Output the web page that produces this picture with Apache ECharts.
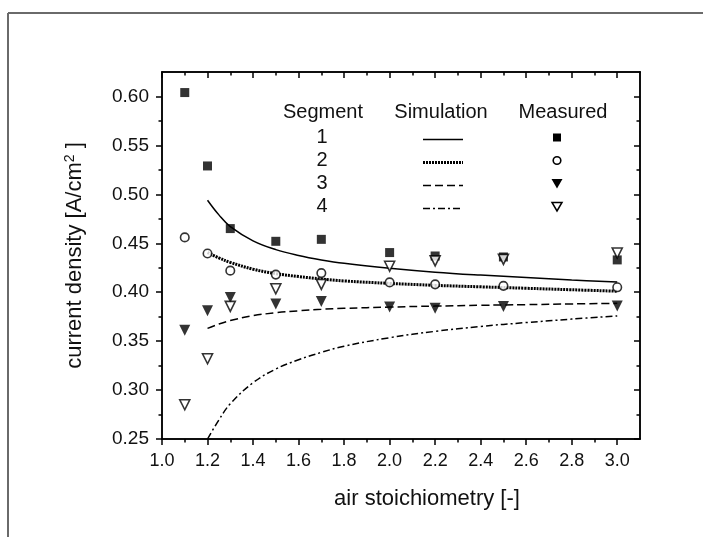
<!DOCTYPE html>
<html><head><meta charset="utf-8">
<script src="https://cdn.jsdelivr.net/npm/echarts@6/dist/echarts.min.js"></script>
<style>html,body{margin:0;padding:0;background:#fff}#c{width:703px;height:537px}</style>
</head><body><div id="c"></div>
<script>
// ---- data ----
const measX = [1.1, 1.2, 1.3, 1.5, 1.7, 2.0, 2.2, 2.5, 3.0];
const meas1 = [0.604, 0.529, 0.465, 0.452, 0.454, 0.4405, 0.437, 0.436, 0.433];
const meas2 = [0.456, 0.4395, 0.422, 0.418, 0.4195, 0.410, 0.408, 0.4065, 0.405];
const meas3 = [0.361, 0.381, 0.3945, 0.388, 0.3905, 0.385, 0.3835, 0.3855, 0.386];
const meas4 = [0.285, 0.332, 0.3855, 0.4035, 0.408, 0.4265, 0.432, 0.4335, 0.440];

const simX = [1.2, 1.25, 1.3, 1.4, 1.5, 1.6, 1.7, 1.8, 2.0, 2.2, 2.4, 2.6, 2.8, 3.0];
const sim1 = [0.494, 0.479, 0.467, 0.4525, 0.4435, 0.4375, 0.433, 0.4295, 0.4245, 0.4205, 0.4175, 0.415, 0.4125, 0.4105];
const sim2 = [0.4405, 0.435, 0.4305, 0.4235, 0.419, 0.416, 0.4135, 0.4115, 0.409, 0.407, 0.4055, 0.404, 0.4025, 0.401];
const sim3 = [0.363, 0.3675, 0.371, 0.376, 0.379, 0.381, 0.3825, 0.3835, 0.3848, 0.3858, 0.3866, 0.3873, 0.388, 0.3886];
const sim4 = [0.250, 0.2695, 0.286, 0.3075, 0.3215, 0.331, 0.3385, 0.3448, 0.3535, 0.360, 0.365, 0.369, 0.3725, 0.3758];

const xMajor = [1.0, 1.2, 1.4, 1.6, 1.8, 2.0, 2.2, 2.4, 2.6, 2.8, 3.0];
const xMinor = [1.1, 1.3, 1.5, 1.7, 1.9, 2.1, 2.3, 2.5, 2.7, 2.9];
const yMajor = [0.25, 0.30, 0.35, 0.40, 0.45, 0.50, 0.55, 0.60];
const yMinor = [0.275, 0.325, 0.375, 0.425, 0.475, 0.525, 0.575];

const segLabels = ['1', '2', '3', '4'];
const legendHeaders = ['Segment', 'Simulation', 'Measured'];
const xName = 'air stoichiometry [-]';

// ---- chart ----
const FONT = 'Liberation Sans, Arial, sans-serif';
const X_MIN = 1.0, X_MAX = 3.1, Y_MIN = 0.25, Y_MAX = 0.625;
const pair = (xs, ys) => xs.map((x, i) => [x, ys[i]]);

function xAx(pos, vals, len, inside, labels, extra) {
  return Object.assign({
    type: 'value', position: pos, min: X_MIN, max: X_MAX, gridIndex: 0,
    axisLine: { show: true, onZero: false, lineStyle: { color: '#000', width: 1.5 } },
    axisTick: { show: true, inside: inside, length: len, customValues: vals, lineStyle: { color: '#000', width: 1.5 } },
    axisLabel: labels ? { show: true, customValues: vals, margin: 13, color: '#111', fontFamily: FONT, fontSize: 18,
      formatter: v => v.toFixed(1) } : { show: false },
    splitLine: { show: false }
  }, extra || {});
}
function yAx(pos, vals, len, inside, labels, extra) {
  return Object.assign({
    type: 'value', position: pos, min: Y_MIN, max: Y_MAX, gridIndex: 0,
    axisLine: { show: true, onZero: false, lineStyle: { color: '#000', width: 1.5 } },
    axisTick: { show: true, inside: inside, length: len, customValues: vals, lineStyle: { color: '#000', width: 1.5 } },
    axisLabel: labels ? { show: true, customValues: vals, margin: 13, color: '#111', fontFamily: FONT, fontSize: 19,
      formatter: v => v.toFixed(2) } : { show: false },
    splitLine: { show: false }
  }, extra || {});
}

const lineBase = (data, type, width) => ({
  type: 'line', data: data, smooth: 0.4, showSymbol: false, silent: true,
  xAxisIndex: 0, yAxisIndex: 0, clip: true,
  lineStyle: { color: '#000', width: width, type: type, cap: 'butt' }
});
const scat = (data, symbol, filled, size, rotate) => ({
  type: 'scatter', data: data, symbol: symbol, symbolSize: size, symbolRotate: rotate || 0,
  xAxisIndex: 0, yAxisIndex: 0, silent: true, z: 5,
  itemStyle: filled ? { color: '#000' } : { color: '#fff', borderColor: '#000', borderWidth: 1.6 }
});

// legend graphic
const rowsY = [137.5, 160.5, 183.5, 206.5];
const lineTypes = [
  { dash: null, w: 1.5 }, { dash: [2, 1], w: 3 }, { dash: [8, 4], w: 1.5 }, { dash: [7, 3, 2, 3], w: 1.5 }
];
const g = [];
g.push({ type: 'line', shape: { x1: 8, y1: 13, x2: 703, y2: 13 }, style: { stroke: '#6a6a6a', lineWidth: 2 } });
g.push({ type: 'line', shape: { x1: 8, y1: 13, x2: 8, y2: 537 }, style: { stroke: '#6a6a6a', lineWidth: 2 } });
const hdrX = [323, 441, 563];
legendHeaders.forEach((t, i) => g.push({ type: 'text', x: hdrX[i], y: 112,
  style: { text: t, fill: '#111', font: '20px ' + FONT, textAlign: 'center', textVerticalAlign: 'middle' } }));
segLabels.forEach((t, i) => {
  const y = rowsY[i];
  g.push({ type: 'text', x: 322, y: y, style: { text: t, fill: '#111', font: '20px ' + FONT, textAlign: 'center', textVerticalAlign: 'middle' } });
  g.push({ type: 'line', shape: { x1: 423, y1: y + 2, x2: 463, y2: y + 2 },
    style: { stroke: '#000', lineWidth: lineTypes[i].w, lineDash: lineTypes[i].dash } });
});
const mx = 557;
g.push({ type: 'rect', shape: { x: mx - 4, y: rowsY[0] - 4, width: 8, height: 8 }, style: { fill: '#000' } });
g.push({ type: 'circle', shape: { cx: mx, cy: rowsY[1], r: 3.8 }, style: { fill: '#fff', stroke: '#000', lineWidth: 1.6 } });
g.push({ type: 'polygon', shape: { points: [[mx - 5.5, rowsY[2] - 4.5], [mx + 5.5, rowsY[2] - 4.5], [mx, rowsY[2] + 5]] }, style: { fill: '#000' } });
g.push({ type: 'polygon', shape: { points: [[mx - 5, rowsY[3] - 4], [mx + 5, rowsY[3] - 4], [mx, rowsY[3] + 4.5]] }, style: { fill: '#fff', stroke: '#000', lineWidth: 1.5 } });

const option = {
  backgroundColor: '#fff',
  animation: false,
  grid: [{ left: 162, right: 63, top: 72, bottom: 98, containLabel: false }],
  xAxis: [
    xAx('bottom', xMajor, 6, false, true, { name: xName, nameLocation: 'middle', nameGap: 49,
      nameTextStyle: { fontFamily: FONT, fontSize: 22, color: '#111', padding: [0, 0, 0, 52] } }),
    xAx('bottom', xMinor, 3.5, false, false),
    xAx('top', xMajor, 6, true, false),
    xAx('top', xMinor, 3.5, true, false)
  ],
  yAxis: [
    yAx('left', yMajor, 6, false, true, { name: '{t|current density [A/cm}{s|2}{t| ]}', nameLocation: 'middle', nameGap: 75, nameRotate: 90,
      nameTextStyle: { rich: { t: { fontFamily: FONT, fontSize: 22, color: '#111' },
        s: { fontFamily: FONT, fontSize: 14, color: '#111', padding: [0, 0, 10, 0] } } } }),
    yAx('left', yMinor, 3.5, false, false),
    yAx('right', yMajor, 6, true, false),
    yAx('right', yMinor, 3.5, true, false)
  ],
  series: [
    lineBase(pair(simX, sim1), 'solid', 1.5),
    lineBase(pair(simX, sim2), [2, 1], 3),
    lineBase(pair(simX, sim3), [8, 4], 1.5),
    lineBase(pair(simX, sim4), [7, 3, 2, 3], 1.5),
    scat(pair(measX, meas1), 'rect', true, 9),
    scat(pair(measX, meas2), 'circle', false, 8.5),
    scat(pair(measX, meas3), 'triangle', true, 11, 180),
    scat(pair(measX, meas4), 'triangle', false, 10, 180)
  ],
  graphic: g
};
const chart = echarts.init(document.getElementById('c'), null, { renderer: 'canvas' });
chart.setOption(option);
</script></body></html>
